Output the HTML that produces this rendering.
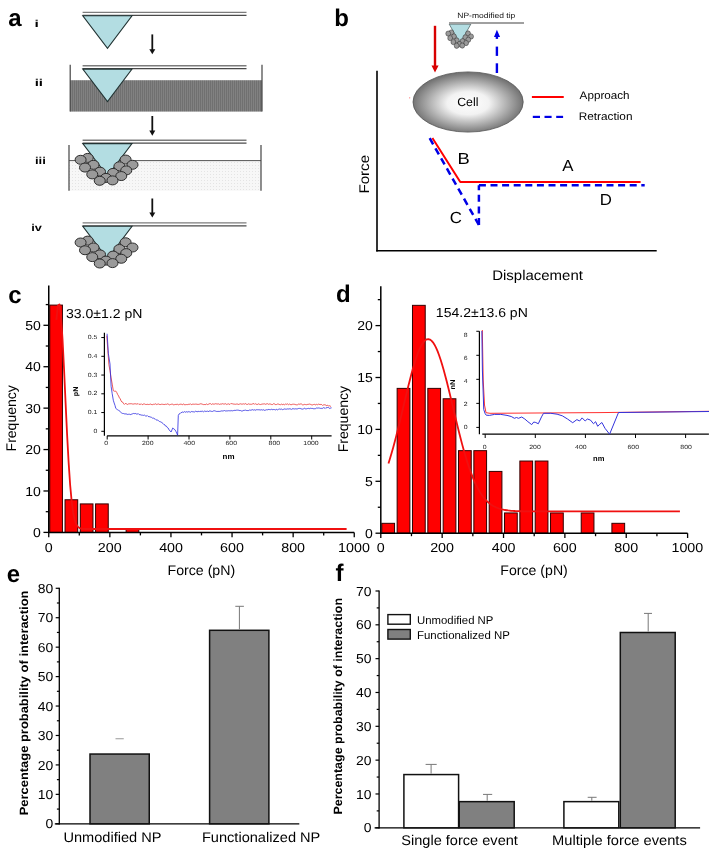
<!DOCTYPE html>
<html><head><meta charset="utf-8"><style>
html,body{margin:0;padding:0;background:#fff;}
svg{display:block;font-family:"Liberation Sans", sans-serif;will-change:transform;text-rendering:geometricPrecision;}
</style></head><body>
<svg width="720" height="853" viewBox="0 0 720 853">
<rect width="720" height="853" fill="#fff"/>
<text x="8.20" y="25.60" font-size="24" font-weight="bold" >a</text>
<text x="334.20" y="25.80" font-size="24" font-weight="bold" >b</text>
<text x="8.30" y="302.80" font-size="24" font-weight="bold" >c</text>
<text x="336.00" y="302.30" font-size="24" font-weight="bold" >d</text>
<text x="6.80" y="581.60" font-size="24" font-weight="bold" >e</text>
<text x="335.60" y="580.60" font-size="24" font-weight="bold" >f</text>
<defs><pattern id="vstripe" width="2" height="4" patternUnits="userSpaceOnUse"><rect width="2" height="4" fill="#818181"/><rect width="1" height="4" fill="#707070"/></pattern><pattern id="dots" width="3" height="3" patternUnits="userSpaceOnUse"><rect width="3" height="3" fill="#f7f7f7"/><rect width="1" height="1" fill="#e4e4e4"/></pattern></defs>
<line x1="82.6" y1="12.40" x2="246.5" y2="12.40" stroke="#7c7c7c" stroke-width="1.4"/>
<line x1="82.6" y1="15.30" x2="246.5" y2="15.30" stroke="#4a4a4a" stroke-width="1.3"/>
<polygon points="82.8,15.80 132,15.80 107.5,48.40" fill="#b3dde2" stroke="#223333" stroke-width="1.1"/>
<line x1="152.30" y1="34.40" x2="152.30" y2="50.30" stroke="#111" stroke-width="1.8" />
<polygon points="149.30,49.20 155.30,49.20 152.30,54.30" fill="#111"/>
<line x1="152.30" y1="116.00" x2="152.30" y2="131.70" stroke="#111" stroke-width="1.8" />
<polygon points="149.30,130.60 155.30,130.60 152.30,135.70" fill="#111"/>
<line x1="152.30" y1="198.50" x2="152.30" y2="213.60" stroke="#111" stroke-width="1.8" />
<polygon points="149.30,212.50 155.30,212.50 152.30,217.60" fill="#111"/>
<rect x="70.20" y="80.20" width="191.80" height="31.40" fill="url(#vstripe)" stroke="none" stroke-width="1" />
<line x1="70.20" y1="64.70" x2="70.20" y2="111.60" stroke="#444" stroke-width="1.2" />
<line x1="262.00" y1="64.70" x2="262.00" y2="111.60" stroke="#444" stroke-width="1.2" />
<line x1="82.6" y1="65.70" x2="246.5" y2="65.70" stroke="#7c7c7c" stroke-width="1.4"/>
<line x1="82.6" y1="68.60" x2="246.5" y2="68.60" stroke="#4a4a4a" stroke-width="1.3"/>
<polygon points="82.8,69.10 132,69.10 107.5,101.70" fill="#b3dde2" stroke="#223333" stroke-width="1.1"/>
<rect x="69.00" y="160.60" width="192.00" height="30.20" fill="url(#dots)" stroke="none" stroke-width="1" />
<line x1="69.00" y1="160.60" x2="261.00" y2="160.60" stroke="#555" stroke-width="1" />
<line x1="69.00" y1="145.00" x2="69.00" y2="190.80" stroke="#444" stroke-width="1.2" />
<line x1="261.00" y1="145.00" x2="261.00" y2="190.80" stroke="#444" stroke-width="1.2" />
<line x1="82.6" y1="140.20" x2="246.5" y2="140.20" stroke="#7c7c7c" stroke-width="1.4"/>
<line x1="82.6" y1="143.10" x2="246.5" y2="143.10" stroke="#4a4a4a" stroke-width="1.3"/>
<polygon points="82.8,143.60 132,143.60 107.5,176.20" fill="#b3dde2" stroke="#223333" stroke-width="1.1"/>
<ellipse cx="87.75" cy="157.90" rx="5.5" ry="4.5" fill="#9a9a9a" stroke="#2d2d2d" stroke-width="1"/>
<ellipse cx="80.6" cy="159.80" rx="5.5" ry="4.5" fill="#9a9a9a" stroke="#2d2d2d" stroke-width="1"/>
<ellipse cx="125.6" cy="159.55" rx="5.5" ry="4.5" fill="#9a9a9a" stroke="#2d2d2d" stroke-width="1"/>
<ellipse cx="93.5" cy="164.80" rx="5.5" ry="4.5" fill="#9a9a9a" stroke="#2d2d2d" stroke-width="1"/>
<ellipse cx="85" cy="167.55" rx="5.5" ry="4.5" fill="#9a9a9a" stroke="#2d2d2d" stroke-width="1"/>
<ellipse cx="132.5" cy="164.80" rx="5.5" ry="4.5" fill="#9a9a9a" stroke="#2d2d2d" stroke-width="1"/>
<ellipse cx="119.4" cy="166.30" rx="5.5" ry="4.5" fill="#9a9a9a" stroke="#2d2d2d" stroke-width="1"/>
<ellipse cx="126.25" cy="170.40" rx="5.5" ry="4.5" fill="#9a9a9a" stroke="#2d2d2d" stroke-width="1"/>
<ellipse cx="100" cy="171.70" rx="5.5" ry="4.5" fill="#9a9a9a" stroke="#2d2d2d" stroke-width="1"/>
<ellipse cx="113.1" cy="172.90" rx="5.5" ry="4.5" fill="#9a9a9a" stroke="#2d2d2d" stroke-width="1"/>
<ellipse cx="92.25" cy="174.40" rx="5.5" ry="4.5" fill="#9a9a9a" stroke="#2d2d2d" stroke-width="1"/>
<ellipse cx="121.25" cy="176.05" rx="5.5" ry="4.5" fill="#9a9a9a" stroke="#2d2d2d" stroke-width="1"/>
<ellipse cx="106" cy="177.90" rx="5.5" ry="4.5" fill="#9a9a9a" stroke="#2d2d2d" stroke-width="1"/>
<ellipse cx="99.75" cy="180.80" rx="5.5" ry="4.5" fill="#9a9a9a" stroke="#2d2d2d" stroke-width="1"/>
<ellipse cx="112.5" cy="180.40" rx="5.5" ry="4.5" fill="#9a9a9a" stroke="#2d2d2d" stroke-width="1"/>
<line x1="82.6" y1="222.90" x2="246.5" y2="222.90" stroke="#7c7c7c" stroke-width="1.4"/>
<line x1="82.6" y1="225.80" x2="246.5" y2="225.80" stroke="#4a4a4a" stroke-width="1.3"/>
<polygon points="82.8,226.30 132,226.30 107.5,258.90" fill="#b3dde2" stroke="#223333" stroke-width="1.1"/>
<ellipse cx="87.75" cy="240.60" rx="5.5" ry="4.5" fill="#9a9a9a" stroke="#2d2d2d" stroke-width="1"/>
<ellipse cx="80.6" cy="242.50" rx="5.5" ry="4.5" fill="#9a9a9a" stroke="#2d2d2d" stroke-width="1"/>
<ellipse cx="125.6" cy="242.25" rx="5.5" ry="4.5" fill="#9a9a9a" stroke="#2d2d2d" stroke-width="1"/>
<ellipse cx="93.5" cy="247.50" rx="5.5" ry="4.5" fill="#9a9a9a" stroke="#2d2d2d" stroke-width="1"/>
<ellipse cx="85" cy="250.25" rx="5.5" ry="4.5" fill="#9a9a9a" stroke="#2d2d2d" stroke-width="1"/>
<ellipse cx="132.5" cy="247.50" rx="5.5" ry="4.5" fill="#9a9a9a" stroke="#2d2d2d" stroke-width="1"/>
<ellipse cx="119.4" cy="249.00" rx="5.5" ry="4.5" fill="#9a9a9a" stroke="#2d2d2d" stroke-width="1"/>
<ellipse cx="126.25" cy="253.10" rx="5.5" ry="4.5" fill="#9a9a9a" stroke="#2d2d2d" stroke-width="1"/>
<ellipse cx="100" cy="254.40" rx="5.5" ry="4.5" fill="#9a9a9a" stroke="#2d2d2d" stroke-width="1"/>
<ellipse cx="113.1" cy="255.60" rx="5.5" ry="4.5" fill="#9a9a9a" stroke="#2d2d2d" stroke-width="1"/>
<ellipse cx="92.25" cy="257.10" rx="5.5" ry="4.5" fill="#9a9a9a" stroke="#2d2d2d" stroke-width="1"/>
<ellipse cx="121.25" cy="258.75" rx="5.5" ry="4.5" fill="#9a9a9a" stroke="#2d2d2d" stroke-width="1"/>
<ellipse cx="106" cy="260.60" rx="5.5" ry="4.5" fill="#9a9a9a" stroke="#2d2d2d" stroke-width="1"/>
<ellipse cx="99.75" cy="263.50" rx="5.5" ry="4.5" fill="#9a9a9a" stroke="#2d2d2d" stroke-width="1"/>
<ellipse cx="112.5" cy="263.10" rx="5.5" ry="4.5" fill="#9a9a9a" stroke="#2d2d2d" stroke-width="1"/>
<text x="34.61" y="26.50" font-size="10" font-weight="bold" textLength="4.32" lengthAdjust="spacingAndGlyphs" >i</text>
<text x="34.65" y="85.60" font-size="10" font-weight="bold" textLength="8.30" lengthAdjust="spacingAndGlyphs" >ii</text>
<text x="34.99" y="163.50" font-size="10" font-weight="bold" textLength="10.87" lengthAdjust="spacingAndGlyphs" >iii</text>
<text x="31.31" y="231.30" font-size="10" font-weight="bold" textLength="10.64" lengthAdjust="spacingAndGlyphs" >iv</text>
<g transform="translate(412.768,15.152) scale(0.44,0.58)"><polygon points="82.8,15.60 132,15.60 107.5,48.20" fill="#b3dde2" stroke="#223333" stroke-width="1.1"/>
<ellipse cx="87.75" cy="29.90" rx="5.5" ry="4.5" fill="#9a9a9a" stroke="#2d2d2d" stroke-width="1"/>
<ellipse cx="80.6" cy="31.80" rx="5.5" ry="4.5" fill="#9a9a9a" stroke="#2d2d2d" stroke-width="1"/>
<ellipse cx="125.6" cy="31.55" rx="5.5" ry="4.5" fill="#9a9a9a" stroke="#2d2d2d" stroke-width="1"/>
<ellipse cx="93.5" cy="36.80" rx="5.5" ry="4.5" fill="#9a9a9a" stroke="#2d2d2d" stroke-width="1"/>
<ellipse cx="85" cy="39.55" rx="5.5" ry="4.5" fill="#9a9a9a" stroke="#2d2d2d" stroke-width="1"/>
<ellipse cx="132.5" cy="36.80" rx="5.5" ry="4.5" fill="#9a9a9a" stroke="#2d2d2d" stroke-width="1"/>
<ellipse cx="119.4" cy="38.30" rx="5.5" ry="4.5" fill="#9a9a9a" stroke="#2d2d2d" stroke-width="1"/>
<ellipse cx="126.25" cy="42.40" rx="5.5" ry="4.5" fill="#9a9a9a" stroke="#2d2d2d" stroke-width="1"/>
<ellipse cx="100" cy="43.70" rx="5.5" ry="4.5" fill="#9a9a9a" stroke="#2d2d2d" stroke-width="1"/>
<ellipse cx="113.1" cy="44.90" rx="5.5" ry="4.5" fill="#9a9a9a" stroke="#2d2d2d" stroke-width="1"/>
<ellipse cx="92.25" cy="46.40" rx="5.5" ry="4.5" fill="#9a9a9a" stroke="#2d2d2d" stroke-width="1"/>
<ellipse cx="121.25" cy="48.05" rx="5.5" ry="4.5" fill="#9a9a9a" stroke="#2d2d2d" stroke-width="1"/>
<ellipse cx="106" cy="49.90" rx="5.5" ry="4.5" fill="#9a9a9a" stroke="#2d2d2d" stroke-width="1"/>
<ellipse cx="99.75" cy="52.80" rx="5.5" ry="4.5" fill="#9a9a9a" stroke="#2d2d2d" stroke-width="1"/>
<ellipse cx="112.5" cy="52.40" rx="5.5" ry="4.5" fill="#9a9a9a" stroke="#2d2d2d" stroke-width="1"/></g>
<line x1="449.00" y1="23.00" x2="524.00" y2="23.00" stroke="#a0a0a0" stroke-width="1.8" />
<text x="457.32" y="17.50" font-size="7.6" fill="#111" textLength="58.03" lengthAdjust="spacingAndGlyphs" >NP-modified tip</text>
<line x1="435.00" y1="25.80" x2="435.00" y2="66.50" stroke="#d80000" stroke-width="2.4" />
<polygon points="431.5,65.6 438.6,65.6 435,72.5" fill="#d80000"/>
<polygon points="494,37 500.1,37 496.9,29.8" fill="#0000e6"/>
<line x1="496.90" y1="36.00" x2="496.90" y2="38.90" stroke="#0000e6" stroke-width="2.4" />
<line x1="496.90" y1="46.60" x2="496.90" y2="55.90" stroke="#0000e6" stroke-width="2.4" />
<line x1="496.90" y1="63.30" x2="496.90" y2="73.00" stroke="#0000e6" stroke-width="2.4" />
<defs><radialGradient id="cellg" cx="0.5" cy="0.52" r="0.5"><stop offset="0" stop-color="#fff"/><stop offset="0.38" stop-color="#f2f2f2"/><stop offset="1" stop-color="#747474"/></radialGradient></defs>
<ellipse cx="468.1" cy="102" rx="55.1" ry="30.1" fill="url(#cellg)" stroke="#555" stroke-width="0.8"/>
<text x="457.18" y="105.60" font-size="12" textLength="21.25" lengthAdjust="spacingAndGlyphs" >Cell</text>
<circle cx="409.7" cy="97.8" r="0.6" fill="#f66"/>
<line x1="377.00" y1="70.80" x2="377.00" y2="251.50" stroke="#000" stroke-width="1.6" />
<line x1="376.20" y1="250.80" x2="656.70" y2="250.80" stroke="#000" stroke-width="1.6" />
<polyline points="432.40,138.00 460.30,182.00 640.60,182.00" fill="none" stroke="#f00" stroke-width="2" stroke-linejoin="round" />
<line x1="478.90" y1="225.00" x2="429.60" y2="138.00" stroke="#0000e6" stroke-width="2.5" stroke-dasharray="7,4.6"/>
<line x1="478.90" y1="225.00" x2="478.90" y2="185.20" stroke="#0000e6" stroke-width="2.5" stroke-dasharray="7,4.6"/>
<line x1="478.90" y1="185.20" x2="644.70" y2="185.20" stroke="#0000e6" stroke-width="2.4" stroke-dasharray="7,4.6"/>
<line x1="531.90" y1="97.10" x2="563.75" y2="97.10" stroke="#f00" stroke-width="2" />
<line x1="532.80" y1="116.90" x2="540.00" y2="116.90" stroke="#0000e6" stroke-width="2.2" />
<line x1="544.50" y1="116.90" x2="551.60" y2="116.90" stroke="#0000e6" stroke-width="2.2" />
<line x1="556.20" y1="116.90" x2="563.10" y2="116.90" stroke="#0000e6" stroke-width="2.2" />
<text x="579.64" y="99.40" font-size="11" textLength="49.93" lengthAdjust="spacingAndGlyphs" >Approach</text>
<text x="578.76" y="119.50" font-size="11" textLength="53.74" lengthAdjust="spacingAndGlyphs" >Retraction</text>
<text x="457.63" y="163.90" font-size="16" textLength="12.22" lengthAdjust="spacingAndGlyphs" >B</text>
<text x="562.32" y="170.90" font-size="16" textLength="11.22" lengthAdjust="spacingAndGlyphs" >A</text>
<text x="599.66" y="205.20" font-size="16" textLength="12.14" lengthAdjust="spacingAndGlyphs" >D</text>
<text x="449.66" y="222.80" font-size="16" textLength="12.15" lengthAdjust="spacingAndGlyphs" >C</text>
<text x="492.20" y="279.90" font-size="14" textLength="90.72" lengthAdjust="spacingAndGlyphs" >Displacement</text>
<text x="368.80" y="193.61" font-size="14" textLength="38.71" lengthAdjust="spacingAndGlyphs" transform="rotate(-90 368.80 193.61)" >Force</text>
<rect x="49.75" y="305.09" width="12.68" height="227.31" fill="#f00" stroke="#300" stroke-width="1" />
<rect x="65.03" y="499.76" width="12.67" height="32.64" fill="#f00" stroke="#300" stroke-width="1" />
<rect x="80.30" y="503.91" width="12.67" height="28.49" fill="#f00" stroke="#300" stroke-width="1" />
<rect x="95.57" y="503.91" width="12.68" height="28.49" fill="#f00" stroke="#300" stroke-width="1" />
<rect x="126.12" y="528.76" width="12.67" height="3.64" fill="#f00" stroke="#300" stroke-width="1" />
<polyline points="56.39,319.82 57.91,305.67 59.44,304.34 60.97,316.05 62.50,338.81 64.03,368.95 65.55,402.09 67.08,434.18 68.61,462.25 70.13,484.72 71.66,501.33 73.19,512.70 74.72,519.96 76.25,524.27 77.77,526.67 79.30,527.92 80.83,528.53 82.35,528.81 83.88,528.93 85.41,528.98 86.94,528.99 88.47,529.00 89.99,529.00 91.52,529.00 93.05,529.00 94.57,529.00 96.10,529.00 97.63,529.00 99.16,529.00 100.69,529.00 102.21,529.00 103.74,529.00 105.27,529.00 106.80,529.00 108.32,529.00 109.85,529.00 111.38,529.00 112.91,529.00 114.43,529.00 115.96,529.00 117.49,529.00 119.02,529.00 120.54,529.00 122.07,529.00 123.60,529.00 125.12,529.00 126.65,529.00 128.18,529.00 129.71,529.00 131.24,529.00 132.76,529.00 134.29,529.00 135.82,529.00 137.34,529.00 138.87,529.00 140.40,529.00 141.93,529.00 143.45,529.00 144.98,529.00 146.51,529.00 148.04,529.00 149.56,529.00 151.09,529.00 152.62,529.00 154.15,529.00 155.68,529.00 157.20,529.00 158.73,529.00 160.26,529.00 161.78,529.00 163.31,529.00 164.84,529.00 166.37,529.00 167.89,529.00 169.42,529.00 170.95,529.00 172.48,529.00 174.00,529.00 175.53,529.00 177.06,529.00 178.59,529.00 180.12,529.00 181.64,529.00 183.17,529.00 184.70,529.00 186.22,529.00 187.75,529.00 189.28,529.00 190.81,529.00 192.34,529.00 193.86,529.00 195.39,529.00 196.92,529.00 198.44,529.00 199.97,529.00 201.50,529.00 203.03,529.00 204.56,529.00 206.08,529.00 207.61,529.00 209.14,529.00 210.66,529.00 212.19,529.00 213.72,529.00 215.25,529.00 216.78,529.00 218.30,529.00 219.83,529.00 221.36,529.00 222.88,529.00 224.41,529.00 225.94,529.00 227.47,529.00 229.00,529.00 230.52,529.00 232.05,529.00 233.58,529.00 235.10,529.00 236.63,529.00 238.16,529.00 239.69,529.00 241.22,529.00 242.74,529.00 244.27,529.00 245.80,529.00 247.32,529.00 248.85,529.00 250.38,529.00 251.91,529.00 253.44,529.00 254.96,529.00 256.49,529.00 258.02,529.00 259.54,529.00 261.07,529.00 262.60,529.00 264.13,529.00 265.65,529.00 267.18,529.00 268.71,529.00 270.24,529.00 271.76,529.00 273.29,529.00 274.82,529.00 276.35,529.00 277.88,529.00 279.40,529.00 280.93,529.00 282.46,529.00 283.99,529.00 285.51,529.00 287.04,529.00 288.57,529.00 290.10,529.00 291.62,529.00 293.15,529.00 294.68,529.00 296.20,529.00 297.73,529.00 299.26,529.00 300.79,529.00 302.31,529.00 303.84,529.00 305.37,529.00 306.90,529.00 308.43,529.00 309.95,529.00 311.48,529.00 313.01,529.00 314.53,529.00 316.06,529.00 317.59,529.00 319.12,529.00 320.64,529.00 322.17,529.00 323.70,529.00 325.23,529.00 326.75,529.00 328.28,529.00 329.81,529.00 331.34,529.00 332.87,529.00 334.39,529.00 335.92,529.00 337.45,529.00 338.97,529.00 340.50,529.00 342.03,529.00 343.56,529.00 345.08,529.00 346.61,529.00" fill="none" stroke="#f01010" stroke-width="1.8" stroke-linejoin="round" />
<line x1="48.75" y1="285.50" x2="48.75" y2="533.10" stroke="#000" stroke-width="1.5" />
<line x1="48.05" y1="532.40" x2="354.20" y2="532.40" stroke="#000" stroke-width="1.5" />
<line x1="43.45" y1="532.40" x2="48.75" y2="532.40" stroke="#000" stroke-width="1.3" />
<text x="32.97" y="537.00" font-size="13" textLength="7.81" lengthAdjust="spacingAndGlyphs" >0</text>
<line x1="43.45" y1="490.98" x2="48.75" y2="490.98" stroke="#000" stroke-width="1.3" />
<text x="25.18" y="495.58" font-size="13" textLength="15.62" lengthAdjust="spacingAndGlyphs" >10</text>
<line x1="43.45" y1="449.56" x2="48.75" y2="449.56" stroke="#000" stroke-width="1.3" />
<text x="25.18" y="454.16" font-size="13" textLength="15.62" lengthAdjust="spacingAndGlyphs" >20</text>
<line x1="43.45" y1="408.14" x2="48.75" y2="408.14" stroke="#000" stroke-width="1.3" />
<text x="25.18" y="412.74" font-size="13" textLength="15.62" lengthAdjust="spacingAndGlyphs" >30</text>
<line x1="43.45" y1="366.72" x2="48.75" y2="366.72" stroke="#000" stroke-width="1.3" />
<text x="25.18" y="371.32" font-size="13" textLength="15.62" lengthAdjust="spacingAndGlyphs" >40</text>
<line x1="43.45" y1="325.30" x2="48.75" y2="325.30" stroke="#000" stroke-width="1.3" />
<text x="25.18" y="329.90" font-size="13" textLength="15.62" lengthAdjust="spacingAndGlyphs" >50</text>
<line x1="45.75" y1="511.69" x2="48.75" y2="511.69" stroke="#000" stroke-width="1.3" />
<line x1="45.75" y1="470.27" x2="48.75" y2="470.27" stroke="#000" stroke-width="1.3" />
<line x1="45.75" y1="428.85" x2="48.75" y2="428.85" stroke="#000" stroke-width="1.3" />
<line x1="45.75" y1="387.43" x2="48.75" y2="387.43" stroke="#000" stroke-width="1.3" />
<line x1="45.75" y1="346.01" x2="48.75" y2="346.01" stroke="#000" stroke-width="1.3" />
<line x1="45.75" y1="304.59" x2="48.75" y2="304.59" stroke="#000" stroke-width="1.3" />
<line x1="48.75" y1="532.40" x2="48.75" y2="537.20" stroke="#000" stroke-width="1.3" />
<text x="44.78" y="551.70" font-size="13" textLength="7.95" lengthAdjust="spacingAndGlyphs" >0</text>
<line x1="79.30" y1="532.40" x2="79.30" y2="535.40" stroke="#000" stroke-width="1.3" />
<line x1="109.85" y1="532.40" x2="109.85" y2="537.20" stroke="#000" stroke-width="1.3" />
<text x="97.87" y="551.70" font-size="13" textLength="23.86" lengthAdjust="spacingAndGlyphs" >200</text>
<line x1="140.40" y1="532.40" x2="140.40" y2="535.40" stroke="#000" stroke-width="1.3" />
<line x1="170.95" y1="532.40" x2="170.95" y2="537.20" stroke="#000" stroke-width="1.3" />
<text x="159.15" y="551.70" font-size="13" textLength="23.86" lengthAdjust="spacingAndGlyphs" >400</text>
<line x1="201.50" y1="532.40" x2="201.50" y2="535.40" stroke="#000" stroke-width="1.3" />
<line x1="232.05" y1="532.40" x2="232.05" y2="537.20" stroke="#000" stroke-width="1.3" />
<text x="220.07" y="551.70" font-size="13" textLength="23.86" lengthAdjust="spacingAndGlyphs" >600</text>
<line x1="262.60" y1="532.40" x2="262.60" y2="535.40" stroke="#000" stroke-width="1.3" />
<line x1="293.15" y1="532.40" x2="293.15" y2="537.20" stroke="#000" stroke-width="1.3" />
<text x="281.21" y="551.70" font-size="13" textLength="23.86" lengthAdjust="spacingAndGlyphs" >800</text>
<line x1="323.70" y1="532.40" x2="323.70" y2="535.40" stroke="#000" stroke-width="1.3" />
<line x1="354.25" y1="532.40" x2="354.25" y2="537.20" stroke="#000" stroke-width="1.3" />
<text x="338.09" y="551.70" font-size="13" textLength="31.81" lengthAdjust="spacingAndGlyphs" >1000</text>
<text x="15.80" y="451.42" font-size="14" textLength="66.29" lengthAdjust="spacingAndGlyphs" transform="rotate(-90 15.80 451.42)" >Frequency</text>
<text x="167.47" y="575.40" font-size="14" textLength="67.73" lengthAdjust="spacingAndGlyphs" >Force (pN)</text>
<text x="65.94" y="317.50" font-size="13" textLength="76.46" lengthAdjust="spacingAndGlyphs" >33.0±1.2 pN</text>
<rect x="381.80" y="523.32" width="12.74" height="9.88" fill="#f00" stroke="#300" stroke-width="1" />
<rect x="397.14" y="388.38" width="12.74" height="144.82" fill="#f00" stroke="#300" stroke-width="1" />
<rect x="412.48" y="305.34" width="12.74" height="227.86" fill="#f00" stroke="#300" stroke-width="1" />
<rect x="427.82" y="388.38" width="12.74" height="144.82" fill="#f00" stroke="#300" stroke-width="1" />
<rect x="443.16" y="398.76" width="12.74" height="134.44" fill="#f00" stroke="#300" stroke-width="1" />
<rect x="458.50" y="450.66" width="12.74" height="82.54" fill="#f00" stroke="#300" stroke-width="1" />
<rect x="473.84" y="450.66" width="12.74" height="82.54" fill="#f00" stroke="#300" stroke-width="1" />
<rect x="489.18" y="471.42" width="12.74" height="61.78" fill="#f00" stroke="#300" stroke-width="1" />
<rect x="504.52" y="512.94" width="12.74" height="20.26" fill="#f00" stroke="#300" stroke-width="1" />
<rect x="519.86" y="461.04" width="12.74" height="72.16" fill="#f00" stroke="#300" stroke-width="1" />
<rect x="535.20" y="461.04" width="12.74" height="72.16" fill="#f00" stroke="#300" stroke-width="1" />
<rect x="550.54" y="512.94" width="12.74" height="20.26" fill="#f00" stroke="#300" stroke-width="1" />
<rect x="581.22" y="512.94" width="12.74" height="20.26" fill="#f00" stroke="#300" stroke-width="1" />
<rect x="611.90" y="523.32" width="12.74" height="9.88" fill="#f00" stroke="#300" stroke-width="1" />
<polyline points="388.47,463.42 390.00,458.53 391.54,453.36 393.07,447.94 394.61,442.27 396.14,436.38 397.67,430.31 399.21,424.07 400.74,417.72 402.28,411.29 403.81,404.82 405.34,398.37 406.88,391.99 408.41,385.74 409.95,379.66 411.48,373.81 413.01,368.25 414.55,363.04 416.08,358.22 417.62,353.86 419.15,349.99 420.68,346.65 422.22,343.89 423.75,341.73 425.29,340.21 426.82,339.33 428.35,339.10 429.89,339.54 431.42,340.63 432.96,342.36 434.49,344.71 436.02,347.66 437.56,351.17 439.09,355.20 440.63,359.72 442.16,364.67 443.69,369.99 445.23,375.65 446.76,381.58 448.30,387.72 449.83,394.03 451.36,400.43 452.90,406.89 454.43,413.35 455.97,419.76 457.50,426.08 459.03,432.27 460.57,438.29 462.10,444.11 463.64,449.70 465.17,455.05 466.70,460.12 468.24,464.92 469.77,469.43 471.31,473.65 472.84,477.58 474.37,481.21 475.91,484.55 477.44,487.62 478.98,490.41 480.51,492.95 482.04,495.24 483.58,497.31 485.11,499.15 486.65,500.80 488.18,502.26 489.71,503.55 491.25,504.68 492.78,505.67 494.32,506.53 495.85,507.28 497.38,507.93 498.92,508.49 500.45,508.96 501.99,509.37 503.52,509.72 505.05,510.01 506.59,510.25 508.12,510.46 509.66,510.63 511.19,510.78 512.72,510.89 514.26,510.99 515.79,511.07 517.33,511.14 518.86,511.19 520.39,511.23 521.93,511.27 523.46,511.30 525.00,511.32 526.53,511.34 528.06,511.35 529.60,511.36 531.13,511.37 532.67,511.38 534.20,511.38 535.73,511.39 537.27,511.39 538.80,511.39 540.34,511.40 541.87,511.40 543.40,511.40 544.94,511.40 546.47,511.40 548.01,511.40 549.54,511.40 551.07,511.40 552.61,511.40 554.14,511.40 555.68,511.40 557.21,511.40 558.74,511.40 560.28,511.40 561.81,511.40 563.35,511.40 564.88,511.40 566.41,511.40 567.95,511.40 569.48,511.40 571.02,511.40 572.55,511.40 574.08,511.40 575.62,511.40 577.15,511.40 578.69,511.40 580.22,511.40 581.75,511.40 583.29,511.40 584.82,511.40 586.36,511.40 587.89,511.40 589.42,511.40 590.96,511.40 592.49,511.40 594.03,511.40 595.56,511.40 597.09,511.40 598.63,511.40 600.16,511.40 601.70,511.40 603.23,511.40 604.76,511.40 606.30,511.40 607.83,511.40 609.37,511.40 610.90,511.40 612.43,511.40 613.97,511.40 615.50,511.40 617.04,511.40 618.57,511.40 620.10,511.40 621.64,511.40 623.17,511.40 624.71,511.40 626.24,511.40 627.77,511.40 629.31,511.40 630.84,511.40 632.38,511.40 633.91,511.40 635.44,511.40 636.98,511.40 638.51,511.40 640.05,511.40 641.58,511.40 643.11,511.40 644.65,511.40 646.18,511.40 647.72,511.40 649.25,511.40 650.78,511.40 652.32,511.40 653.85,511.40 655.39,511.40 656.92,511.40 658.45,511.40 659.99,511.40 661.52,511.40 663.06,511.40 664.59,511.40 666.12,511.40 667.66,511.40 669.19,511.40 670.73,511.40 672.26,511.40 673.79,511.40 675.33,511.40 676.86,511.40 678.40,511.40 679.93,511.40" fill="none" stroke="#f01010" stroke-width="1.8" stroke-linejoin="round" />
<line x1="380.80" y1="286.20" x2="380.80" y2="533.90" stroke="#000" stroke-width="1.5" />
<line x1="380.10" y1="533.20" x2="687.60" y2="533.20" stroke="#000" stroke-width="1.5" />
<line x1="375.50" y1="533.20" x2="380.80" y2="533.20" stroke="#000" stroke-width="1.3" />
<text x="364.97" y="537.80" font-size="13" textLength="7.81" lengthAdjust="spacingAndGlyphs" >0</text>
<line x1="375.50" y1="481.30" x2="380.80" y2="481.30" stroke="#000" stroke-width="1.3" />
<text x="364.97" y="485.90" font-size="13" textLength="7.81" lengthAdjust="spacingAndGlyphs" >5</text>
<line x1="375.50" y1="429.40" x2="380.80" y2="429.40" stroke="#000" stroke-width="1.3" />
<text x="357.18" y="434.00" font-size="13" textLength="15.62" lengthAdjust="spacingAndGlyphs" >10</text>
<line x1="375.50" y1="377.50" x2="380.80" y2="377.50" stroke="#000" stroke-width="1.3" />
<text x="357.18" y="382.10" font-size="13" textLength="15.62" lengthAdjust="spacingAndGlyphs" >15</text>
<line x1="375.50" y1="325.60" x2="380.80" y2="325.60" stroke="#000" stroke-width="1.3" />
<text x="357.18" y="330.20" font-size="13" textLength="15.62" lengthAdjust="spacingAndGlyphs" >20</text>
<line x1="377.80" y1="507.25" x2="380.80" y2="507.25" stroke="#000" stroke-width="1.3" />
<line x1="377.80" y1="455.35" x2="380.80" y2="455.35" stroke="#000" stroke-width="1.3" />
<line x1="377.80" y1="403.45" x2="380.80" y2="403.45" stroke="#000" stroke-width="1.3" />
<line x1="377.80" y1="351.55" x2="380.80" y2="351.55" stroke="#000" stroke-width="1.3" />
<line x1="377.80" y1="299.65" x2="380.80" y2="299.65" stroke="#000" stroke-width="1.3" />
<line x1="380.80" y1="533.20" x2="380.80" y2="538.00" stroke="#000" stroke-width="1.3" />
<text x="376.83" y="551.70" font-size="13" textLength="7.95" lengthAdjust="spacingAndGlyphs" >0</text>
<line x1="411.48" y1="533.20" x2="411.48" y2="536.20" stroke="#000" stroke-width="1.3" />
<line x1="442.16" y1="533.20" x2="442.16" y2="538.00" stroke="#000" stroke-width="1.3" />
<text x="430.18" y="551.70" font-size="13" textLength="23.86" lengthAdjust="spacingAndGlyphs" >200</text>
<line x1="472.84" y1="533.20" x2="472.84" y2="536.20" stroke="#000" stroke-width="1.3" />
<line x1="503.52" y1="533.20" x2="503.52" y2="538.00" stroke="#000" stroke-width="1.3" />
<text x="491.72" y="551.70" font-size="13" textLength="23.86" lengthAdjust="spacingAndGlyphs" >400</text>
<line x1="534.20" y1="533.20" x2="534.20" y2="536.20" stroke="#000" stroke-width="1.3" />
<line x1="564.88" y1="533.20" x2="564.88" y2="538.00" stroke="#000" stroke-width="1.3" />
<text x="552.90" y="551.70" font-size="13" textLength="23.86" lengthAdjust="spacingAndGlyphs" >600</text>
<line x1="595.56" y1="533.20" x2="595.56" y2="536.20" stroke="#000" stroke-width="1.3" />
<line x1="626.24" y1="533.20" x2="626.24" y2="538.00" stroke="#000" stroke-width="1.3" />
<text x="614.30" y="551.70" font-size="13" textLength="23.86" lengthAdjust="spacingAndGlyphs" >800</text>
<line x1="656.92" y1="533.20" x2="656.92" y2="536.20" stroke="#000" stroke-width="1.3" />
<line x1="687.60" y1="533.20" x2="687.60" y2="538.00" stroke="#000" stroke-width="1.3" />
<text x="671.44" y="551.70" font-size="13" textLength="31.81" lengthAdjust="spacingAndGlyphs" >1000</text>
<text x="348.00" y="452.32" font-size="14" textLength="66.39" lengthAdjust="spacingAndGlyphs" transform="rotate(-90 348.00 452.32)" >Frequency</text>
<text x="500.37" y="574.75" font-size="14" textLength="67.43" lengthAdjust="spacingAndGlyphs" >Force (pN)</text>
<text x="435.85" y="317.10" font-size="13" textLength="91.93" lengthAdjust="spacingAndGlyphs" >154.2±13.6 pN</text>
<line x1="104.40" y1="332.70" x2="104.40" y2="435.80" stroke="#000" stroke-width="1.2" />
<line x1="107.10" y1="435.80" x2="331.60" y2="435.80" stroke="#000" stroke-width="1.2" />
<line x1="101.30" y1="431.30" x2="104.40" y2="431.30" stroke="#000" stroke-width="1" />
<text x="93.55" y="432.90" font-size="6" fill="#222" textLength="3.84" lengthAdjust="spacingAndGlyphs" >0</text>
<line x1="101.30" y1="412.55" x2="104.40" y2="412.55" stroke="#000" stroke-width="1" />
<text x="87.85" y="414.15" font-size="6" fill="#222" textLength="9.59" lengthAdjust="spacingAndGlyphs" >0.1</text>
<line x1="101.30" y1="393.80" x2="104.40" y2="393.80" stroke="#000" stroke-width="1" />
<text x="87.85" y="395.40" font-size="6" fill="#222" textLength="9.59" lengthAdjust="spacingAndGlyphs" >0.2</text>
<line x1="101.30" y1="375.05" x2="104.40" y2="375.05" stroke="#000" stroke-width="1" />
<text x="87.82" y="376.65" font-size="6" fill="#222" textLength="9.59" lengthAdjust="spacingAndGlyphs" >0.3</text>
<line x1="101.30" y1="356.30" x2="104.40" y2="356.30" stroke="#000" stroke-width="1" />
<text x="87.72" y="357.90" font-size="6" fill="#222" textLength="9.59" lengthAdjust="spacingAndGlyphs" >0.4</text>
<line x1="101.30" y1="337.55" x2="104.40" y2="337.55" stroke="#000" stroke-width="1" />
<text x="87.78" y="339.15" font-size="6" fill="#222" textLength="9.59" lengthAdjust="spacingAndGlyphs" >0.5</text>
<line x1="107.20" y1="435.80" x2="107.20" y2="439.50" stroke="#000" stroke-width="1" />
<text x="104.19" y="444.80" font-size="6" fill="#222" textLength="3.84" lengthAdjust="spacingAndGlyphs" >0</text>
<line x1="148.10" y1="435.80" x2="148.10" y2="439.50" stroke="#000" stroke-width="1" />
<text x="142.02" y="444.80" font-size="6" fill="#222" textLength="11.51" lengthAdjust="spacingAndGlyphs" >200</text>
<line x1="189.00" y1="435.80" x2="189.00" y2="439.50" stroke="#000" stroke-width="1" />
<text x="183.51" y="444.80" font-size="6" fill="#222" textLength="11.51" lengthAdjust="spacingAndGlyphs" >400</text>
<line x1="229.90" y1="435.80" x2="229.90" y2="439.50" stroke="#000" stroke-width="1" />
<text x="225.52" y="444.80" font-size="6" fill="#222" textLength="11.51" lengthAdjust="spacingAndGlyphs" >600</text>
<line x1="270.80" y1="435.80" x2="270.80" y2="439.50" stroke="#000" stroke-width="1" />
<text x="268.64" y="444.80" font-size="6" fill="#222" textLength="11.51" lengthAdjust="spacingAndGlyphs" >800</text>
<line x1="311.70" y1="435.80" x2="311.70" y2="439.50" stroke="#000" stroke-width="1" />
<text x="303.30" y="444.80" font-size="6" fill="#222" textLength="15.35" lengthAdjust="spacingAndGlyphs" >1000</text>
<text x="222.58" y="458.75" font-size="7.5" font-weight="bold" textLength="11.93" lengthAdjust="spacingAndGlyphs" >nm</text>
<text x="78.00" y="396.27" font-size="7" font-weight="bold" textLength="9.66" lengthAdjust="spacingAndGlyphs" transform="rotate(-90 78.00 396.27)" >pN</text>
<polyline points="106.80,335.63 107.85,350.55 108.90,364.66 110.00,370.86 111.10,377.80 112.20,384.10 113.30,390.65 114.45,391.24 115.60,390.99 116.70,392.43 117.80,394.74 118.62,395.98 119.45,397.96 120.27,398.85 121.10,400.95 121.92,401.97 122.75,402.23 123.58,403.70 124.40,404.40 125.21,403.54 126.02,403.54 126.83,404.06 127.64,404.47 128.45,403.92 129.25,403.76 130.06,403.97 130.87,403.59 131.68,403.79 132.49,404.01 133.30,404.08 134.11,403.82 134.92,403.83 135.73,403.82 136.54,404.07 137.35,403.91 138.15,403.65 138.96,404.47 139.77,404.19 140.58,404.29 141.39,403.84 142.20,404.65 143.01,404.53 143.82,403.80 144.63,404.01 145.44,404.41 146.25,404.41 147.05,404.64 147.86,404.13 148.67,404.55 149.48,404.40 150.29,404.04 151.10,404.33 151.91,404.63 152.72,404.60 153.53,404.27 154.34,404.36 155.15,403.81 155.95,404.03 156.76,404.59 157.57,404.21 158.38,403.98 159.19,404.36 160.00,404.52 160.81,404.50 161.62,404.21 162.43,404.28 163.24,404.36 164.05,404.63 164.85,404.38 165.66,404.26 166.47,404.37 167.28,403.92 168.09,403.94 168.90,404.60 169.70,404.88 170.51,404.49 171.31,404.28 172.11,404.05 172.91,404.38 173.72,404.86 174.52,404.64 175.32,404.41 176.13,404.72 176.93,404.09 177.73,404.37 178.54,404.80 179.34,404.43 180.14,404.30 180.94,404.11 181.75,404.38 182.55,404.79 183.35,403.83 184.16,404.61 184.96,404.64 185.76,404.70 186.57,404.55 187.37,404.62 188.17,404.32 188.97,404.36 189.78,404.22 190.58,403.85 191.38,404.66 192.19,404.36 192.99,403.98 193.79,404.28 194.60,404.26 195.40,404.13 196.20,404.11 197.00,404.30 197.81,404.38 198.61,404.37 199.41,404.21 200.22,403.77 201.02,403.97 201.82,403.91 202.62,404.32 203.43,404.59 204.23,404.52 205.03,404.52 205.84,404.53 206.64,403.97 207.44,404.55 208.25,404.38 209.05,403.79 209.85,403.71 210.65,403.71 211.46,404.45 212.26,403.94 213.06,403.79 213.87,404.30 214.67,404.02 215.47,403.74 216.28,403.83 217.08,404.19 217.88,403.83 218.68,403.93 219.49,404.36 220.29,404.10 221.09,403.96 221.90,404.11 222.70,403.66 223.50,404.02 224.30,404.05 225.11,403.81 225.91,403.73 226.71,404.51 227.52,404.12 228.32,403.82 229.12,404.21 229.93,404.42 230.73,403.62 231.53,403.61 232.33,403.73 233.14,404.30 233.94,403.74 234.74,404.28 235.55,404.25 236.35,404.11 237.15,403.78 237.96,404.54 238.76,404.35 239.56,404.07 240.36,403.77 241.17,404.19 241.97,403.93 242.77,404.11 243.58,403.85 244.38,404.16 245.18,403.58 245.99,403.82 246.79,404.48 247.59,404.39 248.39,403.81 249.20,404.36 250.00,403.81 250.80,404.45 251.61,404.26 252.41,403.94 253.22,403.78 254.02,403.54 254.83,404.42 255.63,403.59 256.44,404.37 257.24,404.52 258.05,404.14 258.85,403.75 259.66,404.45 260.46,404.56 261.26,404.30 262.07,404.11 262.87,403.99 263.68,403.96 264.48,403.83 265.29,404.31 266.09,404.07 266.90,403.84 267.70,403.76 268.51,404.32 269.31,403.96 270.11,404.17 270.92,404.00 271.72,404.56 272.53,404.59 273.33,403.72 274.14,403.91 274.94,404.04 275.75,404.71 276.55,404.51 277.36,404.07 278.16,403.95 278.97,404.42 279.77,404.59 280.57,404.69 281.38,404.11 282.18,404.66 282.99,404.47 283.79,404.27 284.60,404.78 285.40,404.04 286.21,404.54 287.01,403.90 287.82,403.99 288.62,404.74 289.43,404.05 290.23,404.60 291.03,404.45 291.84,404.70 292.64,404.23 293.45,404.21 294.25,404.17 295.06,404.75 295.86,404.50 296.67,404.85 297.47,404.79 298.28,404.05 299.08,404.47 299.89,404.03 300.69,403.97 301.49,404.01 302.30,404.81 303.10,404.74 303.91,404.79 304.71,404.31 305.52,404.59 306.32,404.76 307.13,404.37 307.93,404.57 308.74,404.23 309.54,404.09 310.34,404.28 311.15,404.91 311.95,404.60 312.76,404.96 313.56,404.50 314.37,404.33 315.17,404.85 315.98,404.89 316.78,404.08 317.59,404.75 318.39,404.18 319.20,404.21 320.00,404.99 320.85,404.25 321.69,404.56 322.54,405.41 323.38,404.95 324.23,404.75 325.08,404.91 325.92,405.10 326.77,405.71 327.62,405.17 328.46,406.09 329.31,405.66 330.15,406.36 331.00,406.00" fill="none" stroke="#e83030" stroke-width="0.8" stroke-linejoin="round" />
<polyline points="107.10,333.76 108.40,353.75 110.00,363.96 111.10,386.28 112.20,393.69 113.30,400.24 114.13,402.94 114.97,405.34 115.80,408.41 116.64,409.07 117.48,409.70 118.32,409.94 119.16,410.87 120.00,411.49 120.84,412.28 121.68,413.01 122.52,413.43 123.36,413.48 124.20,413.84 125.13,413.90 126.07,413.90 127.00,414.13 127.81,414.48 128.62,414.25 129.43,414.23 130.23,414.66 131.04,414.21 131.85,414.16 132.66,413.75 133.47,413.46 134.27,413.68 135.08,413.40 135.89,413.69 136.70,414.10 137.52,413.97 138.34,413.68 139.16,414.59 139.98,414.70 140.80,414.83 141.73,415.17 142.67,415.20 143.60,415.39 144.53,415.12 145.47,415.91 146.40,416.06 147.26,415.56 148.12,416.45 148.99,416.72 149.85,416.76 150.71,417.13 151.58,417.39 152.44,418.12 153.30,418.00 154.18,418.77 155.05,418.73 155.93,419.70 156.80,420.15 157.68,420.15 158.55,420.69 159.43,421.48 160.30,421.72 161.16,422.17 162.03,422.60 162.89,423.39 163.75,424.45 164.61,424.60 165.47,426.03 166.34,426.08 167.20,427.41 168.17,428.06 169.15,429.96 170.12,430.96 171.10,432.00 171.95,429.92 172.80,427.95 173.85,428.94 174.90,429.71 175.80,431.21 176.70,433.11 177.60,435.13 178.30,415.42 179.23,413.84 180.17,413.55 181.10,412.43 181.95,412.58 182.81,411.83 183.66,412.35 184.52,411.64 185.37,412.20 186.22,411.79 187.08,411.71 187.93,412.33 188.78,411.53 189.64,411.91 190.49,412.22 191.35,411.58 192.20,411.51 193.01,412.16 193.81,411.68 194.62,411.95 195.43,411.25 196.24,411.56 197.04,411.34 197.85,411.82 198.66,411.21 199.46,412.06 200.27,411.11 201.08,411.79 201.89,411.06 202.69,411.28 203.50,411.81 204.31,411.14 205.11,411.14 205.92,411.63 206.73,411.30 207.54,410.94 208.34,411.86 209.15,411.00 209.96,410.86 210.76,411.15 211.57,411.40 212.38,411.51 213.19,410.86 213.99,411.06 214.80,410.73 215.61,411.13 216.41,411.42 217.22,411.38 218.03,411.52 218.84,411.35 219.64,411.43 220.45,411.26 221.26,411.00 222.06,410.73 222.87,411.15 223.68,410.78 224.49,410.54 225.29,410.87 226.10,411.27 226.91,410.51 227.71,410.94 228.52,410.73 229.33,410.83 230.14,410.44 230.94,411.23 231.75,410.51 232.56,410.83 233.36,410.63 234.17,410.20 234.98,410.72 235.79,410.28 236.59,410.18 237.40,410.13 238.21,410.24 239.01,410.15 239.82,410.67 240.63,410.52 241.44,410.98 242.24,410.91 243.05,410.94 243.86,410.16 244.66,410.35 245.47,410.14 246.28,410.46 247.09,410.47 247.89,410.62 248.70,410.51 249.51,410.04 250.31,410.18 251.12,410.26 251.93,409.72 252.74,409.73 253.54,410.08 254.35,409.76 255.16,410.35 255.96,409.85 256.77,409.69 257.58,409.75 258.39,409.77 259.19,409.74 260.00,410.02 260.80,409.94 261.61,409.76 262.41,410.07 263.22,409.61 264.02,410.28 264.83,410.31 265.63,410.06 266.44,409.74 267.24,409.79 268.04,409.83 268.85,409.28 269.65,409.62 270.46,409.70 271.26,409.34 272.07,409.22 272.87,409.91 273.68,409.45 274.48,409.57 275.29,409.95 276.09,409.62 276.89,409.27 277.70,409.94 278.50,409.30 279.31,408.93 280.11,409.57 280.92,408.96 281.72,409.14 282.53,409.65 283.33,409.46 284.13,408.77 284.94,409.19 285.74,409.12 286.55,409.17 287.35,408.87 288.16,409.22 288.96,408.68 289.77,408.87 290.57,408.93 291.38,409.47 292.18,408.59 292.98,409.24 293.79,408.65 294.59,409.01 295.40,408.80 296.20,408.85 297.01,409.12 297.81,408.73 298.62,408.44 299.42,408.41 300.22,408.34 301.03,409.09 301.83,408.86 302.64,409.15 303.44,408.86 304.25,408.17 305.05,408.77 305.86,408.87 306.66,408.79 307.47,408.54 308.27,408.37 309.07,408.45 309.88,408.77 310.68,408.21 311.49,408.44 312.29,408.37 313.10,408.82 313.90,408.65 314.71,408.75 315.51,408.63 316.31,408.07 317.12,407.98 317.92,408.21 318.73,407.95 319.53,408.10 320.34,408.33 321.14,408.54 321.95,408.18 322.75,408.39 323.56,407.64 324.36,407.88 325.16,408.50 325.97,407.62 326.77,407.87 327.58,407.49 328.38,407.49 329.19,408.27 329.99,408.34 330.80,407.97 331.60,407.80" fill="none" stroke="#2a2ae0" stroke-width="0.8" stroke-linejoin="round" />
<line x1="479.40" y1="331.20" x2="479.40" y2="434.20" stroke="#000" stroke-width="1.2" />
<line x1="482.30" y1="434.20" x2="708.90" y2="434.20" stroke="#000" stroke-width="1.2" />
<line x1="476.30" y1="427.40" x2="479.40" y2="427.40" stroke="#000" stroke-width="1" />
<text x="463.69" y="428.80" font-size="6" fill="#222" textLength="3.84" lengthAdjust="spacingAndGlyphs" >0</text>
<line x1="476.30" y1="403.37" x2="479.40" y2="403.37" stroke="#000" stroke-width="1" />
<text x="463.69" y="406.00" font-size="6" fill="#222" textLength="3.84" lengthAdjust="spacingAndGlyphs" >2</text>
<line x1="476.30" y1="379.34" x2="479.40" y2="379.34" stroke="#000" stroke-width="1" />
<text x="463.70" y="383.40" font-size="6" fill="#222" textLength="3.84" lengthAdjust="spacingAndGlyphs" >4</text>
<line x1="476.30" y1="355.31" x2="479.40" y2="355.31" stroke="#000" stroke-width="1" />
<text x="463.67" y="359.80" font-size="6" fill="#222" textLength="3.84" lengthAdjust="spacingAndGlyphs" >6</text>
<line x1="476.30" y1="331.28" x2="479.40" y2="331.28" stroke="#000" stroke-width="1" />
<text x="463.67" y="337.00" font-size="6" fill="#222" textLength="3.84" lengthAdjust="spacingAndGlyphs" >8</text>
<line x1="485.20" y1="434.20" x2="485.20" y2="438.00" stroke="#000" stroke-width="1" />
<text x="482.69" y="448.60" font-size="6" fill="#222" textLength="3.84" lengthAdjust="spacingAndGlyphs" >0</text>
<line x1="535.30" y1="434.20" x2="535.30" y2="438.00" stroke="#000" stroke-width="1" />
<text x="529.22" y="448.60" font-size="6" fill="#222" textLength="11.51" lengthAdjust="spacingAndGlyphs" >200</text>
<line x1="585.40" y1="434.20" x2="585.40" y2="438.00" stroke="#000" stroke-width="1" />
<text x="575.11" y="448.60" font-size="6" fill="#222" textLength="11.51" lengthAdjust="spacingAndGlyphs" >400</text>
<line x1="635.50" y1="434.20" x2="635.50" y2="438.00" stroke="#000" stroke-width="1" />
<text x="627.52" y="448.60" font-size="6" fill="#222" textLength="11.51" lengthAdjust="spacingAndGlyphs" >600</text>
<line x1="685.60" y1="434.20" x2="685.60" y2="438.00" stroke="#000" stroke-width="1" />
<text x="680.34" y="448.60" font-size="6" fill="#222" textLength="11.51" lengthAdjust="spacingAndGlyphs" >800</text>
<text x="593.11" y="461.40" font-size="7.5" font-weight="bold" textLength="11.28" lengthAdjust="spacingAndGlyphs" >nm</text>
<text x="455.00" y="389.49" font-size="7" font-weight="bold" textLength="10.00" lengthAdjust="spacingAndGlyphs" transform="rotate(-90 455.00 389.49)" >nN</text>
<polyline points="482.30,330.00 483.20,380.00 484.50,405.00 486.00,412.70 490.00,413.30 600.00,412.60 709.00,411.30" fill="none" stroke="#ff3030" stroke-width="1" stroke-linejoin="round" />
<polyline points="481.90,331.00 482.40,370.00 483.75,409.60 485.20,413.75 486.25,415.20 489.40,415.40 494.60,414.40 500.80,414.40 507.00,415.40 511.25,416.50 514.40,418.30 516.50,417.50 518.50,418.30 521.70,417.00 524.80,419.00 527.90,421.70 531.70,424.60 533.75,422.00 535.80,422.50 538.30,423.75 541.50,416.90 543.50,413.30 550.80,413.30 557.10,414.20 562.30,415.80 567.50,419.00 572.70,422.70 576.90,419.60 579.60,421.00 582.10,417.90 585.20,421.00 587.30,419.00 590.40,420.00 593.50,423.75 595.60,421.70 597.70,426.25 599.80,424.20 601.90,422.50 605.00,428.30 609.60,434.20 618.50,412.50 630.00,412.40 709.00,411.50" fill="none" stroke="#3333dd" stroke-width="1" stroke-linejoin="round" />
<line x1="59.30" y1="587.80" x2="59.30" y2="824.40" stroke="#000" stroke-width="1.3" />
<line x1="54.80" y1="823.80" x2="299.30" y2="823.80" stroke="#000" stroke-width="1.3" />
<line x1="55.70" y1="823.80" x2="59.30" y2="823.80" stroke="#000" stroke-width="1.2" />
<text x="45.44" y="828.40" font-size="13" textLength="7.74" lengthAdjust="spacingAndGlyphs" >0</text>
<line x1="56.90" y1="809.08" x2="59.30" y2="809.08" stroke="#000" stroke-width="1.2" />
<line x1="55.70" y1="794.36" x2="59.30" y2="794.36" stroke="#000" stroke-width="1.2" />
<text x="37.72" y="798.96" font-size="13" textLength="15.47" lengthAdjust="spacingAndGlyphs" >10</text>
<line x1="56.90" y1="779.64" x2="59.30" y2="779.64" stroke="#000" stroke-width="1.2" />
<line x1="55.70" y1="764.92" x2="59.30" y2="764.92" stroke="#000" stroke-width="1.2" />
<text x="37.72" y="769.52" font-size="13" textLength="15.47" lengthAdjust="spacingAndGlyphs" >20</text>
<line x1="56.90" y1="750.20" x2="59.30" y2="750.20" stroke="#000" stroke-width="1.2" />
<line x1="55.70" y1="735.48" x2="59.30" y2="735.48" stroke="#000" stroke-width="1.2" />
<text x="37.72" y="740.08" font-size="13" textLength="15.47" lengthAdjust="spacingAndGlyphs" >30</text>
<line x1="56.90" y1="720.76" x2="59.30" y2="720.76" stroke="#000" stroke-width="1.2" />
<line x1="55.70" y1="706.04" x2="59.30" y2="706.04" stroke="#000" stroke-width="1.2" />
<text x="37.72" y="710.64" font-size="13" textLength="15.47" lengthAdjust="spacingAndGlyphs" >40</text>
<line x1="56.90" y1="691.32" x2="59.30" y2="691.32" stroke="#000" stroke-width="1.2" />
<line x1="55.70" y1="676.60" x2="59.30" y2="676.60" stroke="#000" stroke-width="1.2" />
<text x="37.72" y="681.20" font-size="13" textLength="15.47" lengthAdjust="spacingAndGlyphs" >50</text>
<line x1="56.90" y1="661.88" x2="59.30" y2="661.88" stroke="#000" stroke-width="1.2" />
<line x1="55.70" y1="647.16" x2="59.30" y2="647.16" stroke="#000" stroke-width="1.2" />
<text x="37.72" y="651.76" font-size="13" textLength="15.47" lengthAdjust="spacingAndGlyphs" >60</text>
<line x1="56.90" y1="632.44" x2="59.30" y2="632.44" stroke="#000" stroke-width="1.2" />
<line x1="55.70" y1="617.72" x2="59.30" y2="617.72" stroke="#000" stroke-width="1.2" />
<text x="37.72" y="622.32" font-size="13" textLength="15.47" lengthAdjust="spacingAndGlyphs" >70</text>
<line x1="56.90" y1="603.00" x2="59.30" y2="603.00" stroke="#000" stroke-width="1.2" />
<line x1="55.70" y1="588.28" x2="59.30" y2="588.28" stroke="#000" stroke-width="1.2" />
<text x="37.72" y="592.88" font-size="13" textLength="15.47" lengthAdjust="spacingAndGlyphs" >80</text>
<rect x="90.00" y="754.04" width="59.25" height="69.76" fill="#808080" stroke="#111" stroke-width="1.5" />
<rect x="209.60" y="630.30" width="59.30" height="193.50" fill="#808080" stroke="#111" stroke-width="1.5" />
<line x1="115.50" y1="738.75" x2="123.75" y2="738.75" stroke="#999" stroke-width="1" />
<line x1="239.40" y1="629.50" x2="239.40" y2="606.30" stroke="#777" stroke-width="1" />
<line x1="235.30" y1="606.30" x2="243.90" y2="606.30" stroke="#777" stroke-width="1" />
<text x="63.41" y="842.10" font-size="14" textLength="98.03" lengthAdjust="spacingAndGlyphs" >Unmodified NP</text>
<text x="201.93" y="842.20" font-size="14" textLength="118.40" lengthAdjust="spacingAndGlyphs" >Functionalized NP</text>
<text x="28.50" y="815.34" font-size="12" font-weight="bold" textLength="224.85" lengthAdjust="spacingAndGlyphs" transform="rotate(-90 28.50 815.34)" >Percentage probability of interaction</text>
<line x1="379.10" y1="590.60" x2="379.10" y2="828.40" stroke="#000" stroke-width="1.3" />
<line x1="374.60" y1="827.80" x2="700.10" y2="827.80" stroke="#000" stroke-width="1.3" />
<line x1="375.50" y1="827.80" x2="379.10" y2="827.80" stroke="#000" stroke-width="1.2" />
<text x="363.74" y="832.40" font-size="13" textLength="7.74" lengthAdjust="spacingAndGlyphs" >0</text>
<line x1="376.70" y1="810.88" x2="379.10" y2="810.88" stroke="#000" stroke-width="1.2" />
<line x1="375.50" y1="793.97" x2="379.10" y2="793.97" stroke="#000" stroke-width="1.2" />
<text x="356.02" y="798.57" font-size="13" textLength="15.47" lengthAdjust="spacingAndGlyphs" >10</text>
<line x1="376.70" y1="777.05" x2="379.10" y2="777.05" stroke="#000" stroke-width="1.2" />
<line x1="375.50" y1="760.14" x2="379.10" y2="760.14" stroke="#000" stroke-width="1.2" />
<text x="356.02" y="764.74" font-size="13" textLength="15.47" lengthAdjust="spacingAndGlyphs" >20</text>
<line x1="376.70" y1="743.22" x2="379.10" y2="743.22" stroke="#000" stroke-width="1.2" />
<line x1="375.50" y1="726.31" x2="379.10" y2="726.31" stroke="#000" stroke-width="1.2" />
<text x="356.02" y="730.91" font-size="13" textLength="15.47" lengthAdjust="spacingAndGlyphs" >30</text>
<line x1="376.70" y1="709.39" x2="379.10" y2="709.39" stroke="#000" stroke-width="1.2" />
<line x1="375.50" y1="692.48" x2="379.10" y2="692.48" stroke="#000" stroke-width="1.2" />
<text x="356.02" y="697.08" font-size="13" textLength="15.47" lengthAdjust="spacingAndGlyphs" >40</text>
<line x1="376.70" y1="675.56" x2="379.10" y2="675.56" stroke="#000" stroke-width="1.2" />
<line x1="375.50" y1="658.65" x2="379.10" y2="658.65" stroke="#000" stroke-width="1.2" />
<text x="356.02" y="663.25" font-size="13" textLength="15.47" lengthAdjust="spacingAndGlyphs" >50</text>
<line x1="376.70" y1="641.73" x2="379.10" y2="641.73" stroke="#000" stroke-width="1.2" />
<line x1="375.50" y1="624.82" x2="379.10" y2="624.82" stroke="#000" stroke-width="1.2" />
<text x="356.02" y="629.42" font-size="13" textLength="15.47" lengthAdjust="spacingAndGlyphs" >60</text>
<line x1="376.70" y1="607.90" x2="379.10" y2="607.90" stroke="#000" stroke-width="1.2" />
<line x1="375.50" y1="590.99" x2="379.10" y2="590.99" stroke="#000" stroke-width="1.2" />
<text x="356.02" y="595.59" font-size="13" textLength="15.47" lengthAdjust="spacingAndGlyphs" >70</text>
<rect x="403.90" y="774.57" width="54.70" height="53.23" fill="#fff" stroke="#111" stroke-width="1.5" />
<rect x="459.20" y="801.64" width="55.00" height="26.16" fill="#808080" stroke="#111" stroke-width="1.5" />
<rect x="563.90" y="801.64" width="54.90" height="26.16" fill="#fff" stroke="#111" stroke-width="1.5" />
<rect x="620.30" y="632.49" width="54.90" height="195.31" fill="#808080" stroke="#111" stroke-width="1.5" />
<line x1="431.10" y1="773.67" x2="431.10" y2="764.40" stroke="#777" stroke-width="1" />
<line x1="425.60" y1="764.40" x2="436.70" y2="764.40" stroke="#777" stroke-width="1" />
<line x1="487.20" y1="800.74" x2="487.20" y2="794.40" stroke="#777" stroke-width="1" />
<line x1="483.00" y1="794.40" x2="492.20" y2="794.40" stroke="#777" stroke-width="1" />
<line x1="591.80" y1="800.74" x2="591.80" y2="797.30" stroke="#777" stroke-width="1" />
<line x1="587.70" y1="797.30" x2="596.60" y2="797.30" stroke="#777" stroke-width="1" />
<line x1="648.20" y1="631.59" x2="648.20" y2="613.40" stroke="#777" stroke-width="1" />
<line x1="644.00" y1="613.40" x2="652.00" y2="613.40" stroke="#777" stroke-width="1" />
<rect x="387.90" y="614.60" width="22.40" height="9.60" fill="#fff" stroke="#111" stroke-width="1.4" />
<rect x="387.90" y="629.50" width="22.40" height="9.60" fill="#808080" stroke="#111" stroke-width="1.4" />
<text x="417.05" y="623.60" font-size="11.4" textLength="76.32" lengthAdjust="spacingAndGlyphs" >Unmodified NP</text>
<text x="416.98" y="638.70" font-size="11.4" textLength="92.89" lengthAdjust="spacingAndGlyphs" >Functionalized NP</text>
<text x="401.24" y="844.50" font-size="14" textLength="116.70" lengthAdjust="spacingAndGlyphs" >Single force event</text>
<text x="552.13" y="844.80" font-size="14" textLength="134.65" lengthAdjust="spacingAndGlyphs" >Multiple force events</text>
<text x="342.10" y="814.56" font-size="12" font-weight="bold" textLength="216.59" lengthAdjust="spacingAndGlyphs" transform="rotate(-90 342.10 814.56)" >Percentage probability of interaction</text>
</svg></body></html>
